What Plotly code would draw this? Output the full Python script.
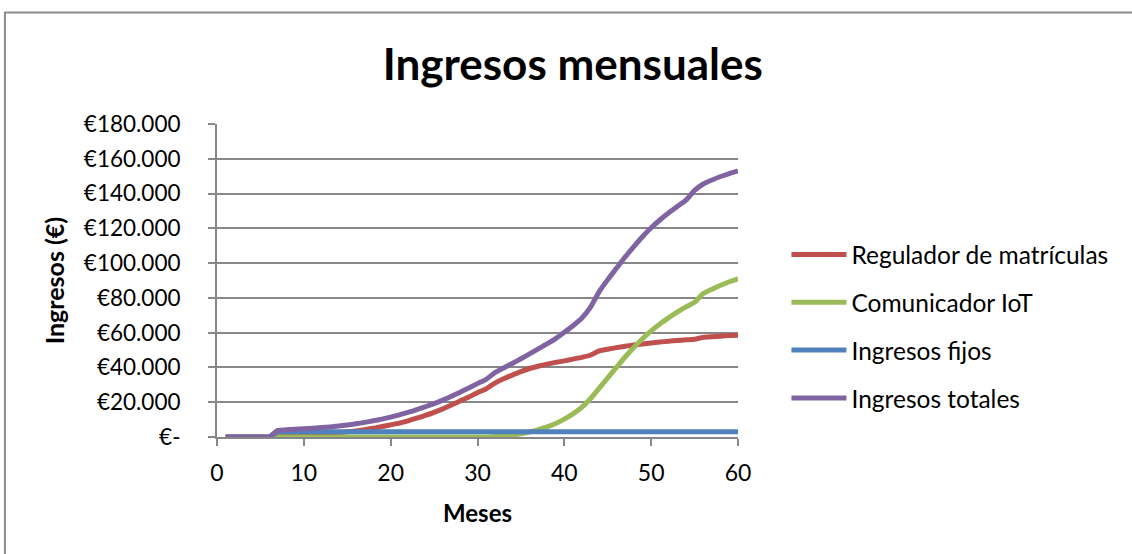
import plotly.graph_objects as go

meses = list(range(1, 61))

regulador = [0, 0, 0, 0, 0, 0, 700, 900, 1100, 1300,
             1500, 1800, 2100, 2500, 3000, 3500, 4200, 5000, 6000, 7000,
             8000, 9300, 10800, 12400, 14200, 16200, 18400, 20700, 23000, 25500,
             27700, 31000, 33500, 35600, 37600, 39400, 40700, 41900, 42900, 43800,
             44800, 45800, 47000, 49500, 50500, 51400, 52200, 52900, 53500, 54100,
             54600, 55100, 55500, 55900, 56200, 57300, 57700, 58000, 58300, 58500]

comunicador = [0] * 31 + [300, 700, 1200, 1900, 2900, 4200, 5800, 7800, 10300,
                          13300, 17000, 22000, 28000, 34000, 40000, 46000, 51500, 56500, 61000,
                          65000, 68500, 71800, 74800, 77500, 82500, 85000, 87300, 89300, 91000]

fijos = [0] * 6 + [3000] * 54

totales = [0, 0, 0, 0, 0, 0, 3800, 4100, 4400, 4700,
           5000, 5400, 5800, 6300, 6900, 7600, 8400, 9300, 10300, 11400,
           12700, 14100, 15700, 17400, 19200, 21200, 23400, 25800, 28200, 30700,
           33200, 37000, 39700, 42300, 45000, 47800, 50700, 53500, 56600, 60200,
           64000, 68300, 74500, 83500, 90500, 97000, 103500, 109500, 115200, 120300,
           124800, 128800, 132500, 136200, 141800, 145500, 147800, 149800, 151500, 153000]

y_ticks = [0, 20000, 40000, 60000, 80000, 100000, 120000, 140000, 160000, 180000]
y_tick_text = ["€-", "€20.000", "€40.000", "€60.000", "€80.000", "€100.000",
               "€120.000", "€140.000", "€160.000", "€180.000"]
x_ticks = [0, 10, 20, 30, 40, 50, 60]

series = [
    ("Regulador de matrículas", regulador, "#C0504D"),
    ("Comunicador IoT", comunicador, "#9BBB59"),
    ("Ingresos fijos", fijos, "#4F81BD"),
    ("Ingresos totales", totales, "#8064A2"),
]

FONT = "Lato, 'Open Sans', sans-serif"
GRID = "#878787"

fig = go.Figure()
for name, values, color in series:
    fig.add_trace(go.Scatter(
        x=meses, y=values, mode="lines", name=name, legendgroup=name,
        line=dict(color=color, width=5, shape="spline", smoothing=0.6),
    ))

fig.update_layout(
    width=1132, height=554,
    margin=dict(l=217, r=394, t=124, b=117),
    paper_bgcolor="white", plot_bgcolor="white",
    font=dict(family=FONT, size=23, color="black"),
    title=dict(text="<b>Ingresos mensuales</b>", x=0.506, xanchor="center",
               y=0.883, yanchor="middle", font=dict(size=44, family=FONT)),
    showlegend=True,
    legend=dict(x=1.093, y=0.655, xanchor="left", yanchor="top",
                itemwidth=55, tracegroupgap=13, traceorder="grouped",
                font=dict(size=24.5, family=FONT), bgcolor="rgba(0,0,0,0)"),
    xaxis=dict(range=[0, 60], tickvals=x_ticks, showgrid=False, zeroline=False,
               showline=True, linecolor=GRID, linewidth=2,
               ticks="outside", ticklen=7, tickwidth=2, tickcolor=GRID,
               ticklabelstandoff=7, tickfont=dict(size=23),
               title=dict(text="<b>Meses</b>", font=dict(size=24), standoff=21)),
    yaxis=dict(range=[0, 180000], tickvals=y_ticks, ticktext=y_tick_text,
               showgrid=True, gridcolor=GRID, gridwidth=2, zeroline=False,
               showline=True, linecolor=GRID, linewidth=2,
               ticks="outside", ticklen=7, tickwidth=2, tickcolor=GRID,
               ticklabelstandoff=23, tickfont=dict(size=22.5),
               title=dict(text="<b>Ingresos (€)</b>", font=dict(size=25), standoff=12)),
)

# chart frame
fig.add_shape(type="rect", xref="paper", yref="paper",
              x0=-0.407, y0=-1.0, x1=2.0, y1=1.3566,
              line=dict(color="#8C8C8C", width=2), fillcolor="rgba(0,0,0,0)",
              layer="below")

fig.write_html("out.html")
